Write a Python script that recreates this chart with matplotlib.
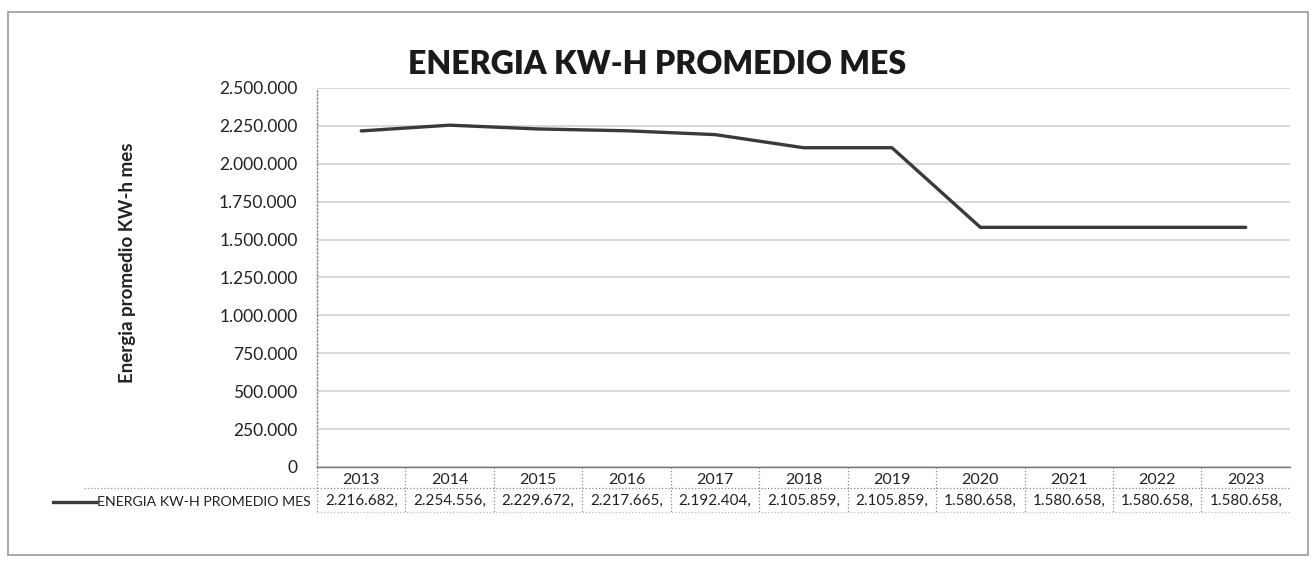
import matplotlib.pyplot as plt
from matplotlib.lines import Line2D
from matplotlib.patches import Rectangle

years = ['2013', '2014', '2015', '2016', '2017', '2018', '2019', '2020', '2021', '2022', '2023']
energia = [2216682, 2254556, 2229672, 2217665, 2192404, 2105859, 2105859,
           1580658, 1580658, 1580658, 1580658]
serie = 'ENERGIA KW-H PROMEDIO MES'
yticks = [0, 250000, 500000, 750000, 1000000, 1250000, 1500000, 1750000,
          2000000, 2250000, 2500000]

plt.rcParams['font.family'] = ['Lato', 'DejaVu Sans']


def fmt(v):
    return '{:,}'.format(v).replace(',', '.')


fig = plt.figure(figsize=(13.16, 5.65), dpi=100)
fig.patches.append(Rectangle((0.006, 0.018), 0.988, 0.96, transform=fig.transFigure,
                             fill=False, edgecolor='#9a9a9a', lw=1.2))
ax = fig.add_axes([0.2409, 0.1735, 0.7393, 0.6708])

x = list(range(len(years)))
ax.plot(x, energia, color='#3a3a3a', lw=2.4, solid_capstyle='round', zorder=3)

ax.set_xlim(-0.5, len(years) - 0.5)
ax.set_ylim(0, 2500000)
ax.set_yticks(yticks)
ax.set_yticklabels([fmt(v) for v in yticks], fontsize=12.5, color='#222222')
ax.tick_params(axis='y', length=0, pad=14)
ax.set_xticks([])
ax.grid(axis='y', color='#d6d6d6', lw=1.3)
ax.set_axisbelow(True)
for s in ['top', 'right']:
    ax.spines[s].set_visible(False)
ax.spines['left'].set_color('#888888')
ax.spines['left'].set_linestyle(':')
ax.spines['left'].set_linewidth(1)
ax.spines['bottom'].set_color('#777777')
ax.spines['bottom'].set_linewidth(1)

ax.set_title('ENERGIA KW-H PROMEDIO MES', fontsize=23, fontweight='heavy',
             color='#1a1a1a', x=0.35, pad=10)
fig.text(0.097, 0.535, 'Energia promedio KW-h mes', rotation=90, ha='center',
         va='center', fontsize=13.5, fontweight='bold', color='#222222')

# data table below the axis
tr = ax.get_xaxis_transform()
y_year, y_sep, y_val, y_bot = -0.034, -0.055, -0.090, -0.119
for i, (yr, v) in enumerate(zip(years, energia)):
    ax.text(i, y_year, yr, transform=tr, ha='center', va='center',
            fontsize=11.5, color='#222222', clip_on=False)
    ax.text(i, y_val, fmt(v) + ',', transform=tr, ha='center', va='center',
            fontsize=11, color='#222222', clip_on=False)
for b in [i - 0.5 for i in range(len(years))]:
    ax.add_line(Line2D([b, b], [0, y_bot], transform=tr, color='#888888',
                       lw=0.9, ls=':', clip_on=False))
ax.add_line(Line2D([-0.5, len(years) - 0.5], [y_sep, y_sep], transform=tr,
                   color='#888888', lw=0.9, ls=':', clip_on=False))
ax.add_line(Line2D([-0.5, len(years) - 0.5], [y_bot, y_bot], transform=tr,
                   color='#bbbbbb', lw=0.9, ls=':', clip_on=False))

# row label with legend key
fy_sep = 1 - 488 / 565
fy_val = 1 - 502 / 565
fig.add_artist(Line2D([0.064, 0.2409], [fy_sep, fy_sep], color='#999999',
                      lw=0.9, ls=':'))
fig.add_artist(Line2D([0.04, 0.073], [fy_val, fy_val], color='#3a3a3a', lw=2.4))
fig.text(0.0735, fy_val, serie, ha='left', va='center', fontsize=10.2,
         color='#222222')

fig.savefig('out.png', dpi=100, facecolor='white')
